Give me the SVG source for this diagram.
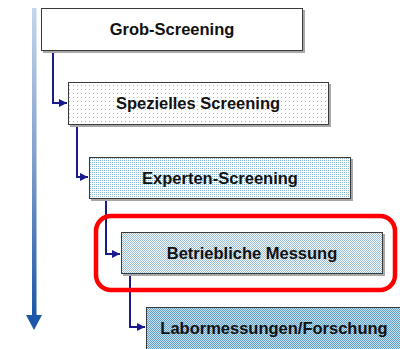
<svg xmlns="http://www.w3.org/2000/svg" width="400" height="349" viewBox="0 0 400 349">
<defs>
<linearGradient id="gArrow" x1="0" y1="0" x2="0" y2="1">
<stop offset="0" stop-color="#c4d6ec"/>
<stop offset="0.5" stop-color="#7f9fcc"/>
<stop offset="1" stop-color="#1b56a8"/>
</linearGradient>
<pattern id="p1" width="4" height="4" patternUnits="userSpaceOnUse">
<rect width="4" height="4" fill="#ffffff"/>
<rect x="1" y="1" width="1" height="1" fill="#8cc0e2"/>
</pattern>
<pattern id="p2" width="2" height="2" patternUnits="userSpaceOnUse">
<rect width="2" height="2" fill="#ffffff"/>
<rect x="0" y="0" width="1" height="1" fill="#8ab6d8"/>
</pattern>
<pattern id="p3" width="2" height="2" patternUnits="userSpaceOnUse">
<rect width="2" height="2" fill="#f8fafc"/>
<rect x="0" y="0" width="1" height="1" fill="#96bedc"/>
<rect x="1" y="1" width="1" height="1" fill="#96bedc"/>
</pattern>
<pattern id="p4" width="2" height="2" patternUnits="userSpaceOnUse">
<rect width="2" height="2" fill="#c8dff0"/>
<rect x="0" y="0" width="1" height="1" fill="#62a0cc"/>
<rect x="1" y="1" width="1" height="1" fill="#62a0cc"/>
</pattern>
<marker id="ah" viewBox="0 0 10 10" refX="10" refY="5" markerWidth="4" markerHeight="4" orient="auto" markerUnits="strokeWidth">
<path d="M0,0 L10,5 L0,10 z" fill="#1a1a8c"/>
</marker>
</defs>
<style>
.box{stroke:#3a3a3a;stroke-width:1}
.sh{fill:#a8a8a8}
.lbl{font-family:"Liberation Sans",Arial,sans-serif;font-weight:bold;font-size:16.5px;fill:#111;text-anchor:middle}
.conn{fill:none;stroke:#1a1a8c;stroke-width:2}
</style>
<rect width="400" height="349" fill="#ffffff"/>
<g id="timeline">
<rect x="32" y="8" width="4.5" height="308" fill="url(#gArrow)"/>
<path d="M26,315 L42,315 L34,330 z" fill="#1b56a8"/>
</g>
<g id="connectors">
<path class="conn" d="M53,51 V103 H67" marker-end="url(#ah)"/>
<path class="conn" d="M77,125 V177 H88" marker-end="url(#ah)"/>
<path class="conn" d="M106,199 V254 H120" marker-end="url(#ah)"/>
<path class="conn" d="M130,274 V327 H145" marker-end="url(#ah)"/>
</g>
<g id="n1">
<rect class="sh" x="43" y="10" width="262" height="43"/>
<rect class="box" x="41.5" y="8.5" width="261" height="42" fill="#ffffff"/>
<text class="lbl" x="172" y="35">Grob-Screening</text>
</g>
<g id="n2">
<rect class="sh" x="70" y="84" width="261" height="43"/>
<rect class="box" x="68.5" y="82.5" width="260" height="42" fill="url(#p1)"/>
<text class="lbl" x="198" y="109">Spezielles Screening</text>
</g>
<g id="n3">
<rect class="sh" x="91" y="159" width="262" height="42"/>
<rect class="box" x="89.5" y="157.5" width="261" height="41" fill="url(#p2)"/>
<text class="lbl" x="220" y="184">Experten-Screening</text>
</g>
<g id="n4">
<rect class="sh" x="123" y="234" width="262" height="42"/>
<rect class="box" x="121.5" y="232.5" width="261" height="41" fill="url(#p3)"/>
<text class="lbl" x="252" y="259">Betriebliche Messung</text>
</g>
<g id="n5">
<rect class="sh" x="148" y="309" width="262" height="42"/>
<rect class="box" x="146.5" y="307.5" width="261" height="45" fill="url(#p4)"/>
<text class="lbl" x="274" y="334">Labormessungen/Forschung</text>
</g>
<g id="highlight">
<rect x="96" y="216" width="299" height="74" rx="15" ry="15" fill="none" stroke="#ff0000" stroke-width="4.5"/>
</g>
</svg>
